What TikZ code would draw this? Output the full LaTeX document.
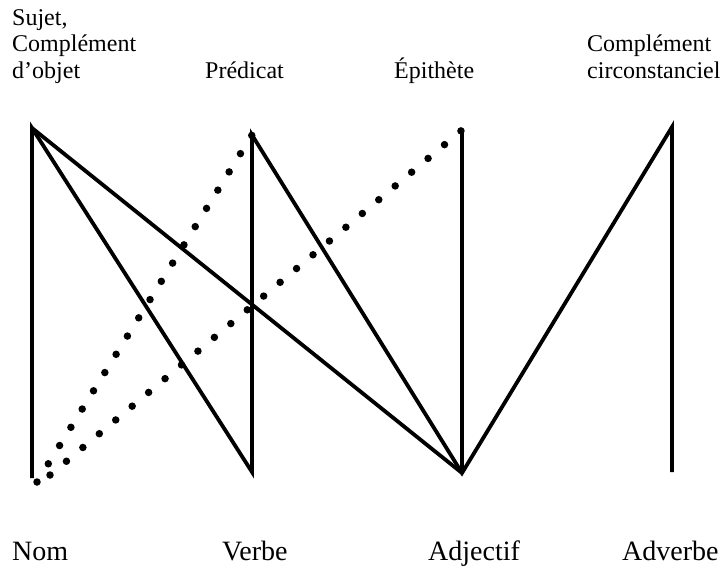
\documentclass[tikz,border=0pt]{standalone}
\usepackage{fontspec}
\setmainfont{Liberation Serif}
\begin{document}
\begin{tikzpicture}[x=1pt,y=-1pt,
  solidline/.style={line width=3.8pt,line join=miter},
  dotline/.style={line width=7.5pt,line cap=round},
  toplabel/.style={inner sep=0pt,anchor=base west,align=left,font=\fontsize{24}{26.5}\selectfont},
  botlabel/.style={inner sep=0pt,anchor=base west,font=\fontsize{28}{30}\selectfont}]
\useasboundingbox (0,0) rectangle (726,566);
% top and bottom points
\coordinate (nt) at (32,128);
\coordinate (nb) at (32,478);
\coordinate (vt) at (252,135);
\coordinate (vb) at (252,472);
\coordinate (at) at (462,130);
\coordinate (ab) at (462,473);
\coordinate (dt) at (672,127);
\coordinate (db) at (672,472);
\coordinate (da) at (37,482);
\coordinate (dbb) at (50,475);
% solid lines
\draw[solidline] (nb) -- (nt) -- (vb) -- (vt) -- (ab) -- (dt) -- (db);
\draw[solidline] (nt) -- (ab);
\draw[solidline] (at) -- (ab);
% dotted lines
\draw[dotline,dash pattern=on 0pt off 21.46pt] (da) -- (vt);
\draw[dotline,dash pattern=on 0pt off 21.44pt] (dbb) -- (at);
% labels
\node[toplabel] (l1) at (12,78) {Sujet,\\Complément\\d’objet};
\node[toplabel] (l2) at (205,78) {Prédicat};
\node[toplabel] (l3) at (394,78) {Épithète};
\node[toplabel] (l4) at (587,78) {Complément\\circonstanciel};
\node[botlabel] (b1) at (12,560) {Nom};
\node[botlabel] (b2) at (222,560) {Verbe};
\node[botlabel] (b3) at (428,560) {Adjectif};
\node[botlabel] (b4) at (622,560) {Adverbe};
\end{tikzpicture}
\end{document}
